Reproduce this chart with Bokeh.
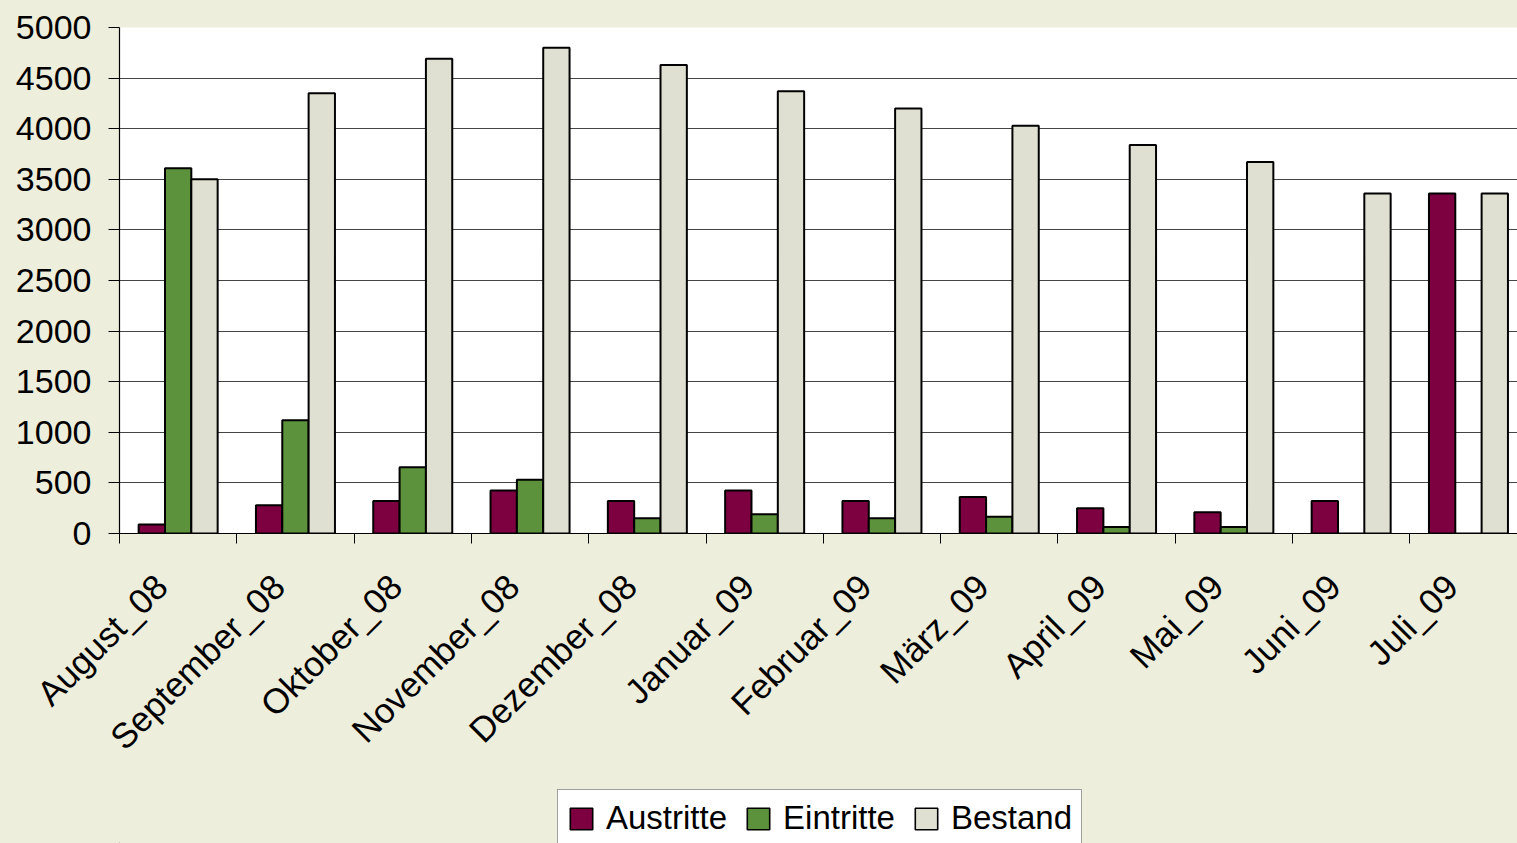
import math
from bokeh.plotting import figure
from bokeh.layouts import column
from bokeh.models import Range1d, FixedTicker, Legend, LegendItem
from bokeh.embed import file_html
from bokeh.resources import INLINE

months = ["August_08", "September_08", "Oktober_08", "November_08", "Dezember_08",
          "Januar_09", "Februar_09", "März_09", "April_09", "Mai_09", "Juni_09", "Juli_09"]
austritte = [90, 280, 320, 425, 320, 425, 320, 360, 250, 210, 320, 3360]
eintritte = [3610, 1120, 655, 530, 150, 190, 150, 165, 65, 65, 0, 0]
bestand = [3500, 4350, 4690, 4800, 4630, 4370, 4200, 4030, 3840, 3670, 3360, 3360]
y_ticks = [0, 500, 1000, 1500, 2000, 2500, 3000, 3500, 4000, 4500, 5000]
series_names = ["Austritte", "Eintritte", "Bestand"]

BG = "#EEEEDC"
C_AUS = "#7D0040"
C_EIN = "#5C923B"
C_BES = "#E0E0D2"
colors = [C_AUS, C_EIN, C_BES]
FONT = "Liberation Sans"

W, H = 1517, 843
H1 = 789              # main chart height; the legend strip fills the rest
H2 = H - H1
left, top = 119, 27
bottom = H1 - 533
cat_px = 117.3
frame_w = W - left
x_end = frame_w / cat_px

p = figure(width=W, height=H1, output_backend="svg", toolbar_location=None,
           x_range=Range1d(0, x_end), y_range=Range1d(0, 5000),
           min_border_left=left, min_border_right=0, min_border_top=top,
           min_border_bottom=bottom)
p.background_fill_color = "white"
p.border_fill_color = BG
p.outline_line_color = None

centers = [i + 0.5 for i in range(len(months))]
bw = 0.2245
for off, vals, col in zip([-bw, 0, bw], [austritte, eintritte, bestand], colors):
    p.vbar(x=[c + off for c in centers], top=vals, width=bw, bottom=0,
           fill_color=col, line_color="black", line_width=2)

# x axis: labels anchored slightly left of the category centres, tick marks at boundaries
label_pos = [c - 0.145 for c in centers]
p.xaxis.ticker = FixedTicker(ticks=label_pos, minor_ticks=list(range(len(months) + 1)))
p.xaxis.major_label_overrides = {lp: m for lp, m in zip(label_pos, months)}
p.xaxis.major_label_orientation = math.pi / 4
p.xaxis.major_tick_out = 0
p.xaxis.major_tick_in = 0
p.xaxis.minor_tick_out = 10
p.xaxis.minor_tick_in = 0
p.xaxis.minor_tick_line_color = "black"
p.xaxis.axis_line_color = "black"
p.xaxis.axis_line_width = 1.2
p.xaxis.major_label_text_font = FONT
p.xaxis.major_label_text_font_size = "35px"
p.xaxis.major_label_text_color = "black"
p.xaxis.major_label_standoff = 37

# y axis
p.yaxis.ticker = FixedTicker(ticks=y_ticks)
p.yaxis.major_tick_out = 11
p.yaxis.major_tick_in = 0
p.yaxis.minor_tick_line_color = None
p.yaxis.axis_line_color = "black"
p.yaxis.axis_line_width = 1.2
p.yaxis.major_label_text_font = FONT
p.yaxis.major_label_text_font_size = "34px"
p.yaxis.major_label_text_color = "black"
p.yaxis.major_label_standoff = 17

p.xgrid.grid_line_color = None
p.ygrid.ticker = FixedTicker(ticks=y_ticks[1:-1])
p.ygrid.grid_line_color = "#454545"
p.ygrid.grid_line_width = 1.2

# legend strip (the legend box runs off the bottom of the page, as in the original)
lg = figure(width=W, height=H2, output_backend="svg", toolbar_location=None,
            x_range=Range1d(0, W), y_range=Range1d(0, H2),
            x_axis_location=None, y_axis_location=None,
            min_border=0, min_border_left=0, min_border_right=0,
            min_border_top=0, min_border_bottom=0)
lg.background_fill_color = None
lg.border_fill_color = BG
lg.outline_line_color = None
lg.xgrid.grid_line_color = None
lg.ygrid.grid_line_color = None
items = []
for name, col in zip(series_names, colors):
    r = lg.vbar(x=[-100], top=[0], width=1, bottom=0,
                fill_color=col, line_color="black", line_width=1.6)
    items.append(LegendItem(label=name, renderers=[r]))
legend = Legend(items=items, orientation="horizontal", location=(438, -4),
                label_text_font=FONT, label_text_font_size="33px",
                label_text_color="black",
                glyph_width=28, glyph_height=27, label_standoff=11, spacing=17,
                padding=9, margin=0,
                border_line_color="#404040", border_line_width=1.2,
                background_fill_color="white", background_fill_alpha=1)
lg.add_layout(legend, "center")

layout = column(p, lg, spacing=0, styles={"background-color": BG})
open("out.html", "w").write(file_html(layout, INLINE))
